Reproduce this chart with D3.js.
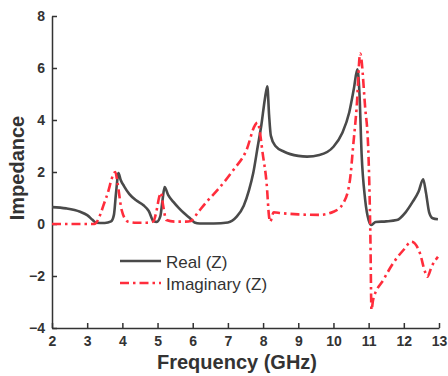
<!DOCTYPE html>
<html>
<head>
<meta charset="utf-8">
<script src="https://cdn.jsdelivr.net/npm/d3@7"></script>
<style>
  body { margin: 0; background: #fff; }
  svg { display: block; }
</style>
</head>
<body>
<div id="chart"></div>
<script>
// Impedance vs frequency

const xTicks = [2, 3, 4, 5, 6, 7, 8, 9, 10, 11, 12, 13]
const yTicks = [-4, -2, 0, 2, 4, 6, 8]

const realFreq = [2.0, 2.4, 2.8, 3.0, 3.15, 3.25, 3.5, 3.68, 3.76, 3.82, 3.89, 3.95, 4.05, 4.2, 4.4, 4.6, 4.75, 4.88, 4.98, 5.08, 5.14, 5.2, 5.3, 5.45, 5.6, 5.75, 5.9, 6.05, 6.2, 6.6, 7.0, 7.25, 7.45, 7.6, 7.72, 7.85, 7.95, 8.05, 8.12, 8.17, 8.22, 8.35, 8.6, 9.0, 9.25, 9.6, 10.0, 10.25, 10.45, 10.58, 10.68, 10.74, 10.8, 10.9, 11.0, 11.08, 11.2, 11.5, 11.8, 12.05, 12.25, 12.42, 12.55, 12.63, 12.72, 12.82, 12.97]
const realVal  = [0.65, 0.6, 0.47, 0.34, 0.16, 0.05, 0.04, 0.1, 0.35, 1.2, 1.96, 1.7, 1.45, 1.15, 0.9, 0.72, 0.5, 0.12, 0.08, 0.3, 0.9, 1.42, 1.12, 0.85, 0.62, 0.42, 0.25, 0.06, 0.02, 0.02, 0.06, 0.28, 0.7, 1.3, 1.96, 3.0, 3.8, 4.8, 5.3, 4.2, 3.4, 3.0, 2.78, 2.62, 2.59, 2.65, 2.97, 3.5, 4.3, 5.2, 5.95, 5.0, 2.7, 0.95, 0.15, -0.04, 0.08, 0.1, 0.15, 0.45, 0.85, 1.25, 1.72, 1.2, 0.45, 0.22, 0.18]

const imagFreq = [2.0, 2.6, 3.2, 3.55, 3.8, 3.86, 3.98, 4.15, 4.4, 4.7, 4.88, 4.97, 5.05, 5.1, 5.16, 5.25, 5.5, 5.8, 5.95, 6.15, 6.4, 6.7, 7.15, 7.53, 7.77, 7.84, 8.0, 8.1, 8.17, 8.2, 8.3, 8.5, 9.0, 9.6, 10.0, 10.28, 10.47, 10.56, 10.66, 10.76, 10.9, 10.99, 11.05, 11.08, 11.13, 11.42, 11.7, 11.99, 12.22, 12.46, 12.6, 12.67, 12.79, 12.97]
const imagVal  = [0.0, 0.0, 0.0, 1.05, 2.0, 1.6, 0.54, 0.1, 0.05, 0.05, 0.1, 0.5, 1.05, 1.2, 0.7, 0.15, 0.09, 0.09, 0.12, 0.45, 0.86, 1.3, 2.07, 2.85, 3.8, 3.9, 2.6, 1.57, 0.28, 0.09, 0.45, 0.42, 0.37, 0.35, 0.47, 0.8, 1.7, 3.0, 4.5, 6.56, 4.5, 2.85, -0.5, -3.3, -2.9, -2.15, -1.5, -1.0, -0.68, -1.13, -1.83, -2.03, -1.64, -1.26]

const seriesNames = ["Real (Z)", "Imaginary (Z)"]

const width = 448, height = 376
const margin = { top: 16, right: 9, bottom: 48, left: 52 }

const realColor = "#4a4a4a"
const imagColor = "#ff2d3c"
const imagDash = "9,4,2.5,4"

const svg = d3.select("#chart")
    .append("svg")
    .attr("width", width)
    .attr("height", height)

const x = d3.scaleLinear()
    .domain([2, 13])
    .range([margin.left, width - margin.right])

const y = d3.scaleLinear()
    .domain([-4, 8])
    .range([height - margin.bottom, margin.top])

// axes, ticks pointing inward
const xAxis = svg.append("g")
    .attr("transform", "translate(0," + (height - margin.bottom) + ")")
    .call(d3.axisBottom(x).tickValues(xTicks).tickSizeInner(-5).tickSizeOuter(0).tickPadding(8))

const yAxis = svg.append("g")
    .attr("transform", "translate(" + margin.left + ",0)")
    .call(d3.axisLeft(y).tickValues(yTicks).tickSizeInner(-5).tickSizeOuter(0).tickPadding(7))

;[xAxis, yAxis].forEach((g) => {
    g.select(".domain").attr("stroke", "#333").attr("stroke-width", 1.5)
    g.selectAll(".tick line").attr("stroke", "#333").attr("stroke-width", 1.5)
    g.selectAll(".tick text")
        .attr("fill", "#333")
        .attr("font-family", "Liberation Sans, Arial, sans-serif")
        .attr("font-weight", "bold")
        .attr("font-size", 14)
})

// axis titles
svg.append("text")
    .attr("x", 237)
    .attr("y", 369)
    .attr("text-anchor", "middle")
    .attr("font-family", "Liberation Sans, Arial, sans-serif")
    .attr("font-weight", "bold")
    .attr("font-size", 20)
    .attr("fill", "#333")
    .text("Frequency (GHz)")

svg.append("text")
    .attr("transform", "translate(24,168) rotate(-90)")
    .attr("text-anchor", "middle")
    .attr("font-family", "Liberation Sans, Arial, sans-serif")
    .attr("font-weight", "bold")
    .attr("font-size", 20)
    .attr("fill", "#333")
    .text("Impedance")

// curves
const line = d3.line()
    .x(d => x(d[0]))
    .y(d => y(d[1]))
    .curve(d3.curveMonotoneX)

const realData = realFreq.map((f, i) => [f, realVal[i]])
const imagData = imagFreq.map((f, i) => [f, imagVal[i]])

svg.append("path")
    .datum(realData)
    .attr("d", line)
    .attr("fill", "none")
    .attr("stroke", realColor)
    .attr("stroke-width", 2.6)
    .attr("stroke-linejoin", "round")

svg.append("path")
    .datum(imagData)
    .attr("d", line)
    .attr("fill", "none")
    .attr("stroke", imagColor)
    .attr("stroke-width", 2.6)
    .attr("stroke-dasharray", imagDash)

// legend
const legend = svg.append("g")
const legendRows = [
    { name: seriesNames[0], color: realColor, dash: null, y: 261 },
    { name: seriesNames[1], color: imagColor, dash: imagDash, y: 283 },
]
legendRows.forEach((r) => {
    legend.append("line")
        .attr("x1", 120).attr("x2", 161)
        .attr("y1", r.y).attr("y2", r.y)
        .attr("stroke", r.color)
        .attr("stroke-width", 2.6)
        .attr("stroke-dasharray", r.dash)
    legend.append("text")
        .attr("x", 166)
        .attr("y", r.y + 7)
        .attr("font-family", "Liberation Sans, Arial, sans-serif")
        .attr("font-size", 17)
        .attr("fill", "#333")
        .text(r.name)
})
</script>
</body>
</html>
